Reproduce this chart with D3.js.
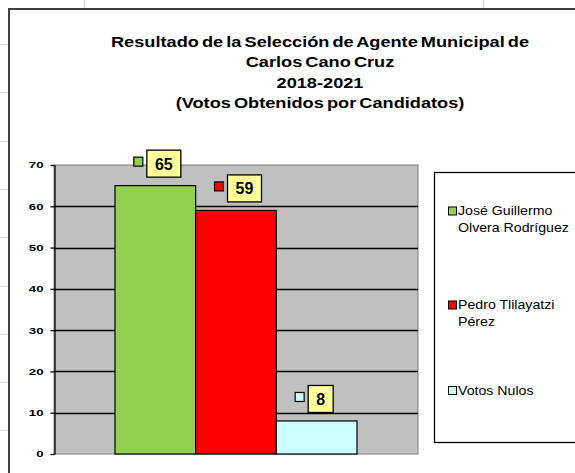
<!DOCTYPE html>
<html>
<head>
<meta charset="utf-8">
<script src="https://cdn.jsdelivr.net/npm/d3@7"></script>
<style>
  body { margin: 0; background: #fff; }
  svg { display: block; font-family: "Liberation Sans", Arial, sans-serif; }
</style>
</head>
<body>
<div id="chart"></div>
<script>
// datos del gráfico
var categories = ["José Guillermo Olvera Rodríguez", "Pedro Tlilayatzi Pérez", "Votos Nulos"];
var legendLines = [["José Guillermo", "Olvera Rodríguez"], ["Pedro Tlilayatzi", "Pérez"], ["Votos Nulos"]];
var votes = [65, 59, 8];
var colors = ["#92d050", "#ff0000", "#ccffff"];
var yTicks = [0, 10, 20, 30, 40, 50, 60, 70];
var titleLines = [
  "Resultado de la Selección de Agente Municipal de",
  "Carlos Cano Cruz",
  "2018-2021",
  "(Votos Obtenidos por Candidatos)"
];

var width = 575, height = 473;
var svg = d3.select("#chart").append("svg").attr("width", width).attr("height", height);

// cuadrícula de la hoja de cálculo detrás
var sheet = svg.append("g").attr("stroke", "#d9d9d9").attr("stroke-width", 1);
[84, 483].forEach(function (x) {
  sheet.append("line").attr("x1", x + 0.5).attr("x2", x + 0.5).attr("y1", 0).attr("y2", 8);
});
d3.range(44, 473, 48.3).forEach(function (y) {
  sheet.append("line").attr("x1", 0).attr("x2", 8).attr("y1", Math.round(y) + 0.5).attr("y2", Math.round(y) + 0.5);
});

// marco del gráfico
svg.append("rect")
  .attr("x", 9).attr("y", 9).attr("width", 600).attr("height", 500)
  .attr("fill", "#fff").attr("stroke", "#404040").attr("stroke-width", 2);

// título (texto ensanchado como en la captura original)
svg.append("g").attr("transform", "translate(320,0) scale(1.3,1)")
  .selectAll("text").data(titleLines).enter().append("text")
  .attr("x", 0).attr("y", function (d, i) { return 47 + i * 20.4; })
  .attr("text-anchor", "middle")
  .attr("font-size", 14).attr("font-weight", "bold")
  .attr("word-spacing", -1.5)
  .text(function (d) { return d; });

// área de trazado
var plot = { left: 54, right: 418, top: 165, bottom: 454 };
var y = d3.scaleLinear().domain([0, 70]).range([plot.bottom, plot.top]);
var x = d3.scaleBand().domain(categories).range([115, 357]).padding(0);

svg.append("rect")
  .attr("x", plot.left).attr("y", plot.top)
  .attr("width", plot.right - plot.left).attr("height", plot.bottom - plot.top)
  .attr("fill", "#c0c0c0").attr("stroke", "#808080").attr("stroke-width", 1);

svg.append("g").selectAll("line").data(yTicks.slice(1, -1)).enter().append("line")
  .attr("x1", plot.left).attr("x2", plot.right)
  .attr("y1", function (d) { return Math.round(y(d)) + 0.5; })
  .attr("y2", function (d) { return Math.round(y(d)) + 0.5; })
  .attr("stroke", "#000").attr("stroke-width", 1.3);

// eje Y
var yAxis = svg.append("g")
  .attr("transform", "translate(" + (plot.left + 0.5) + ",0)")
  .call(d3.axisLeft(y).tickValues(yTicks).tickSize(4).tickSizeOuter(0).tickPadding(0));
yAxis.select(".domain").attr("stroke", "#000").attr("stroke-width", 1.3);
yAxis.selectAll(".tick line").attr("stroke", "#000").attr("stroke-width", 1.3);
yAxis.selectAll(".tick text")
  .attr("font-family", "'Liberation Sans', Arial, sans-serif")
  .attr("font-size", 8.5).attr("font-weight", "bold").attr("fill", "#000")
  .attr("x", -11 / 1.55).attr("dy", "0.35em")
  .attr("transform", "scale(1.55,1)");

// barras
svg.append("g").selectAll("rect").data(votes).enter().append("rect")
  .attr("x", function (d, i) { return x(categories[i]); })
  .attr("y", function (d) { return y(d); })
  .attr("width", x.bandwidth())
  .attr("height", function (d) { return y(0) - y(d); })
  .attr("fill", function (d, i) { return colors[i]; })
  .attr("stroke", "#000").attr("stroke-width", 1.2);

// etiquetas de datos
function boxW(d) { return String(d).length > 1 ? 34 : 25; }
var labels = svg.append("g").selectAll("g").data(votes).enter().append("g")
  .attr("transform", function (d, i) {
    var cx = x(categories[i]) + x.bandwidth() / 2;
    return "translate(" + (cx - 9) + "," + (y(d) - 36) + ")";
  });
labels.append("rect")
  .attr("x", -12.5).attr("y", 7.5).attr("width", 9).attr("height", 9)
  .attr("fill", function (d, i) { return colors[i]; })
  .attr("stroke", "#000").attr("stroke-width", 1.2);
labels.append("rect")
  .attr("x", 0.5).attr("y", 0.5)
  .attr("width", boxW)
  .attr("height", 27)
  .attr("fill", "#ffff99").attr("stroke", "#000").attr("stroke-width", 1.3);
labels.append("text")
  .attr("x", function (d) { return boxW(d) / 2 + 0.5; })
  .attr("y", 20)
  .attr("text-anchor", "middle")
  .attr("font-size", 16).attr("font-weight", "bold")
  .text(function (d) { return d; });

// leyenda
svg.append("rect")
  .attr("x", 434.5).attr("y", 172.5).attr("width", 200).attr("height", 270)
  .attr("fill", "#fff").attr("stroke", "#000").attr("stroke-width", 1.3);
var legendY = [210.5, 304.5, 390];
var legend = svg.append("g").selectAll("g").data(categories).enter().append("g")
  .attr("transform", function (d, i) { return "translate(448," + legendY[i] + ")"; });
legend.append("rect")
  .attr("x", 0.5).attr("y", -3.5).attr("width", 8).attr("height", 8)
  .attr("fill", function (d, i) { return colors[i]; })
  .attr("stroke", "#000").attr("stroke-width", 1);
legend.append("text")
  .attr("transform", "translate(10,0) scale(1.18,1)")
  .attr("font-size", 12)
  .selectAll("tspan").data(function (d, i) { return legendLines[i]; }).enter().append("tspan")
  .attr("x", 0).attr("y", function (d, j) { return 4.5 + j * 16.7; })
  .text(function (d) { return d; });
</script>
</body>
</html>
